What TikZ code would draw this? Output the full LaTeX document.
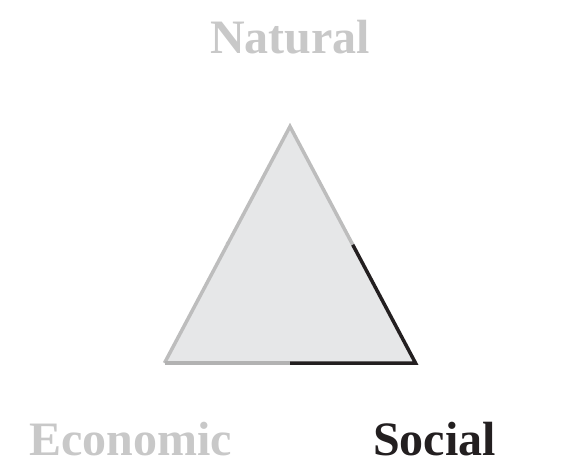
\documentclass[tikz,border=0pt]{standalone}
\usepackage{fontspec}
\setmainfont{Liberation Serif}
\usetikzlibrary{calc}
\definecolor{lightfill}{HTML}{E6E7E8}
\definecolor{edgegray}{HTML}{BDBDBD}
\definecolor{edgegraydark}{HTML}{B2B2B2}
\definecolor{textgray}{HTML}{C8C8C8}
\definecolor{inkblack}{HTML}{231F20}
\tikzset{
  label/.style={font=\bfseries\fontsize{48}{54}\selectfont, anchor=base, inner sep=0pt},
  edge/.style={line width=3.5pt, line join=miter},
}
\begin{document}
\begin{tikzpicture}[x=1pt,y=-1pt]
\useasboundingbox (0,0) rectangle (563,471);
\coordinate (T) at (290,126.5);
\coordinate (L) at (164.5,363);
\coordinate (R) at (415.5,363);
\coordinate (ML) at ($(T)!0.5!(L)$);
\coordinate (MR) at ($(T)!0.5!(R)$);
\coordinate (MB) at ($(L)!0.5!(R)$);
\fill[lightfill] (T) -- (L) -- (R) -- cycle;
\draw[edge, edgegray] (ML) -- (T) -- (MR);
\draw[edge, edgegray] (ML) -- (L);
\draw[edge, edgegraydark] (L) -- (MB);
\draw[edge, edgegray, line cap=butt] (ML) -- ($(ML)!0.02!(T)$);
\draw[edge, inkblack] (MR) -- (R) -- (MB);
\node[label, textgray] (nat) at (290,53) {Natural};
\node[label, textgray] (eco) at (130.5,455) {Economic};
\node[label, inkblack] (soc) at (434.5,455) {Social};
\end{tikzpicture}
\end{document}
